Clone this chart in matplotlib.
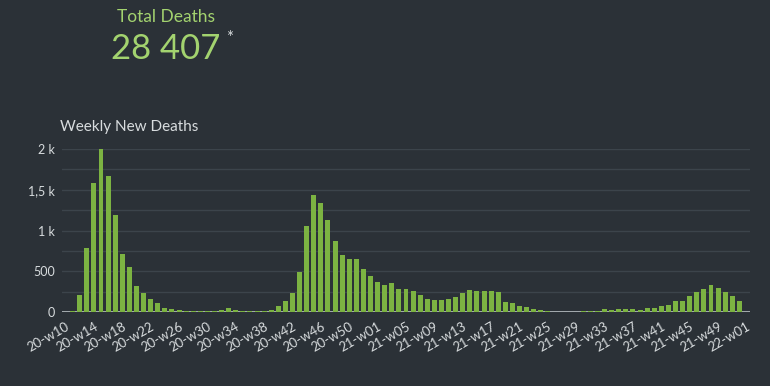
import matplotlib.pyplot as plt

# Weeks 20-w10 .. 22-w01
weeks = ['20-w%02d' % w for w in range(10, 54)] + \
        ['21-w%02d' % w for w in range(1, 53)] + ['22-w01']

deaths = [5, 10, 210, 790, 1580, 1995, 1670, 1190, 710, 550,
          320, 235, 155, 105, 50, 38, 25, 15, 10, 10,
          8, 10, 20, 55, 30, 12, 8, 10, 12, 20,
          72, 130, 230, 490, 1050, 1430, 1335, 1125, 870, 700,
          650, 650, 530, 445,
          372, 335, 360, 286, 284, 260, 203, 162, 148, 148,
          164, 180, 235, 272, 252, 262, 252, 241, 128, 116,
          78, 62, 32, 20, 10, 5, 5, 5, 5, 8,
          12, 12, 33, 25, 33, 33, 33, 30, 45, 45,
          78, 88, 141, 141, 192, 248, 284, 333, 296, 240,
          202, 141, 5]

total_deaths = '28 407'
y_ticks = [0, 500, 1000, 1500, 2000]
y_tick_labels = ['0', '500', '1 k', '1,5 k', '2 k']

bg = '#2b3137'
green = '#7cb342'
text_green = '#a3d36f'
light = '#d8dcde'

plt.rcParams['font.family'] = ['Lato', 'DejaVu Sans']

fig = plt.figure(figsize=(7.7, 3.86), dpi=100, facecolor=bg)
ax = fig.add_axes([62 / 770, 1 - 312 / 386, 688 / 770, 163 / 386])
ax.set_facecolor(bg)

x = list(range(len(weeks)))
ax.bar(x, deaths, width=0.7, color=green, zorder=3)

ax.set_xlim(-0.5, len(weeks) - 0.5)
ax.set_ylim(0, 2000)

# gridlines every 250, labels every 500
for g in range(250, 2001, 250):
    ax.axhline(g, color='#3c444b', linewidth=1, zorder=1)
ax.axhline(0, color='#b9c0c4', linewidth=1.2, zorder=2)

ax.set_yticks(y_ticks)
ax.set_yticklabels(y_tick_labels, color=light, fontsize=9)
ax.set_xticks(x[::4])
ax.set_xticklabels(weeks[::4], rotation=30, ha='right', rotation_mode='anchor',
                   color=light, fontsize=9.5)
ax.tick_params(length=0, pad=5)
ax.tick_params(axis='x', pad=6)
for s in ax.spines.values():
    s.set_visible(False)

fig.text(166 / 770, 1 - 17 / 386, 'Total Deaths', color=text_green,
         fontsize=12.5, ha='center', va='center')
fig.text(166 / 770, 1 - 49 / 386, total_deaths, color=text_green,
         fontsize=25, ha='center', va='center')
fig.text(230 / 770, 1 - 38 / 386, '*', color=light, fontsize=12,
         ha='center', va='center')
fig.text(60 / 770, 1 - 127 / 386, 'Weekly New Deaths', color=light,
         fontsize=11, ha='left', va='center')

fig.savefig('out.png', dpi=100, facecolor=bg)
